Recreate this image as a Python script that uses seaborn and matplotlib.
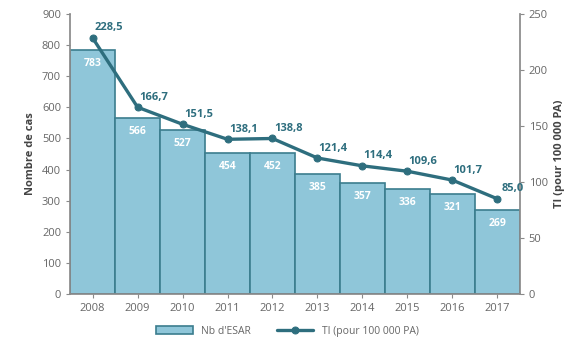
import matplotlib
matplotlib.use("Agg")
import matplotlib.pyplot as plt
import seaborn as sns
import pandas as pd
import numpy as np

years = ["2008", "2009", "2010", "2011", "2012", "2013", "2014", "2015", "2016", "2017"]
nb_esar = [783, 566, 527, 454, 452, 385, 357, 336, 321, 269]
ti = [228.5, 166.7, 151.5, 138.1, 138.8, 121.4, 114.4, 109.6, 101.7, 85.0]

sns.set_theme(style="white")
plt.rcParams['font.family'] = ['Open Sans', 'DejaVu Sans']

bar_color = "#8fc6d9"
edge_color = "#3b7d8e"
line_color = "#2e6e7e"
grey = "#8a8a8a"
text_grey = "#666666"

df = pd.DataFrame({"year": years, "nb": nb_esar, "ti": ti})

fig = plt.figure(figsize=(5.75, 3.46), dpi=100)
ax = fig.add_axes([0.122, 0.150, 0.782, 0.810])

sns.barplot(data=df, x="year", y="nb", ax=ax, color=bar_color, width=1.0,
            edgecolor=edge_color, linewidth=1.2, saturation=1, label="Nb d'ESAR")
ax.set_xlim(-0.5, 9.5)
ax.set_ylim(0, 900)
ax.set_yticks(range(0, 901, 100))
ax.set_ylabel("Nombre de cas", fontsize=8, color="#444444", fontweight="bold")
ax.set_xlabel("")

for i, v in enumerate(nb_esar):
    ax.text(i, v - 25, str(v), ha="center", va="top", color="white",
            fontsize=7.5, fontweight="bold")

ax2 = ax.twinx()
x = np.arange(len(years))
sns.lineplot(x=x, y=ti, ax=ax2, color=line_color, linewidth=2.4, marker="o",
             markersize=5, markeredgecolor=line_color, label="TI (pour 100 000 PA)")
ax2.set_ylim(0, 250)
ax2.set_yticks(range(0, 251, 50))
ax2.set_ylabel("TI (pour 100 000 PA)", fontsize=8, color="#444444", fontweight="bold")

for i, v in enumerate(ti):
    s = f"{v:.1f}".replace(".", ",")
    ax2.text(i + 0.35, v + 4, s, ha="center", va="bottom", color=line_color,
             fontsize=8, fontweight="bold")

for a in (ax, ax2):
    a.spines["top"].set_visible(False)
    a.tick_params(axis="both", colors=grey, labelcolor=text_grey, labelsize=8,
                  length=3, width=0.8, direction="out")
ax.spines["left"].set_color(grey)
ax.spines["bottom"].set_color(grey)
ax.spines["right"].set_visible(False)
ax2.spines["left"].set_visible(False)
ax2.spines["bottom"].set_visible(False)
ax2.spines["right"].set_color(grey)
ax.tick_params(axis="y", left=True)
ax.tick_params(axis="x", bottom=True)
ax2.tick_params(axis="y", right=True)

h1, l1 = ax.get_legend_handles_labels()
h2, l2 = ax2.get_legend_handles_labels()
if ax.get_legend():
    ax.get_legend().remove()
if ax2.get_legend():
    ax2.get_legend().remove()
fig.legend(h1 + h2, l1 + l2, loc="lower center", bbox_to_anchor=(0.5, 0.0),
           ncol=2, frameon=False, fontsize=7.5, labelcolor=text_grey,
           handlelength=3.5, columnspacing=2.5)

fig.savefig("out.png", dpi=100)
